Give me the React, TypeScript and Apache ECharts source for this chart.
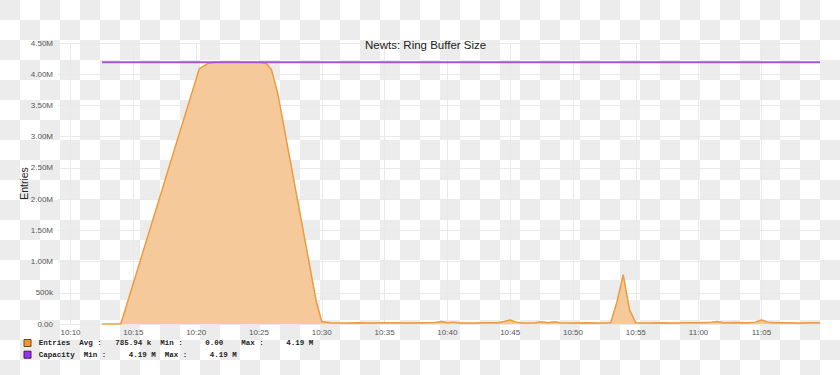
import React, { useEffect, useRef } from "react";
import * as echarts from "echarts";

// ---- data (values in millions of entries) ----
const entryTimes = [
  "10:12:30", "10:14:00", "10:20:15", "10:20:55", "10:21:30", "10:25:00", "10:25:35", "10:26:00",
  "10:26:30", "10:29:35", "10:30:00", "10:30:40", "10:32:00", "10:33:00", "10:34:00", "10:35:00",
  "10:36:00", "10:37:00", "10:38:00", "10:39:00", "10:39:30", "10:40:00", "10:40:30", "10:41:00",
  "10:42:00", "10:43:00", "10:44:00", "10:44:30", "10:45:00", "10:45:30", "10:46:00", "10:47:00",
  "10:47:30", "10:48:00", "10:48:30", "10:49:00", "10:50:00", "10:51:00", "10:52:00", "10:53:00",
  "10:53:30", "10:54:00", "10:54:30", "10:55:00", "10:56:00", "10:57:00", "10:58:00", "10:59:00",
  "11:00:00", "11:01:00", "11:01:30", "11:02:00", "11:03:00", "11:04:00", "11:04:30", "11:05:00",
  "11:05:30", "11:06:00", "11:07:00", "11:08:00", "11:09:00", "11:09:40",
];
const entryValues = [
  0, 0, 4.09, 4.17, 4.19, 4.19, 4.17, 4.07,
  3.69, 0.34, 0.04, 0.02, 0.015, 0.02, 0.015, 0.02,
  0.02, 0.015, 0.02, 0.025, 0.04, 0.02, 0.03, 0.015,
  0.015, 0.02, 0.02, 0.04, 0.065, 0.03, 0.015, 0.02,
  0.035, 0.02, 0.035, 0.02, 0.015, 0.02, 0.015, 0.02,
  0.35, 0.79, 0.23, 0.02, 0.015, 0.02, 0.015, 0.02,
  0.02, 0.03, 0.04, 0.02, 0.025, 0.02, 0.03, 0.065,
  0.03, 0.02, 0.02, 0.015, 0.02, 0.02,
];
const capacityTimes = ["10:12:30", "11:09:40"];
const capacityValues = [4.19, 4.19];

const xTickLabels = [
  "10:10", "10:15", "10:20", "10:25", "10:30", "10:35",
  "10:40", "10:45", "10:50", "10:55", "11:00", "11:05",
];
const axisStart = "10:09:00";
const axisEnd = "11:09:40";

const titleText = "Newts: Ring Buffer Size";
const yAxisName = "Entries";

const legendNames = ["Entries", "Capacity"];
const entriesStatLabels = ["Avg :", "Min :", "Max :"];
const entriesStatValues = ["785.94 k", "0.00", "4.19 M"];
const capacityStatLabels = ["Min :", "Max :"];
const capacityStatValues = ["4.19 M", "4.19 M"];

// minutes since 10:00
const toMin = (s: string) => {
  const [h, m, sec] = s.split(":").map(Number);
  return (h - 10) * 60 + m + (sec || 0) / 60;
};
const pad = (n: number) => (n < 10 ? "0" + n : "" + n);
const fmtMin = (v: number) => {
  const total = Math.round(v);
  return pad(10 + Math.floor(total / 60)) + ":" + pad(total % 60);
};

export default function App() {
  const ref = useRef<HTMLDivElement>(null);

  useEffect(() => {
    if (!ref.current) return;
    const chart = echarts.init(ref.current, undefined, { renderer: "svg" });

    const entriesData = entryTimes.map((t, i) => [toMin(t), entryValues[i]]);
    const capacityData = capacityTimes.map((t, i) => [toMin(t), capacityValues[i]]);
    const tickVals = xTickLabels.map((t) => toMin(t));

    const mono = "'Liberation Mono', 'Courier New', monospace";
    const cw = 4.5;
    const x0 = 38.7;
    const legendText = (str: string, col: number, y: number) => ({
      type: "text",
      x: x0 + col * cw,
      y,
      style: {
        text: str,
        fill: "#222",
        font: `bold 7.5px ${mono}`,
        textVerticalAlign: "middle",
        verticalAlign: "middle",
      },
      silent: true,
    });

    const row1Y = 343.3;
    const row2Y = 355;
    const row1Cols = [9, 17, 27, 37, 45, 55];
    const row2Cols = [10, 20, 28, 38];
    const graphics: any[] = [
      {
        type: "rect",
        shape: { x: 24, y: 339.5, width: 7, height: 7 },
        style: { fill: "#f0962a", stroke: "#6b4a1c", lineWidth: 1 },
      },
      {
        type: "rect",
        shape: { x: 24, y: 351.2, width: 7, height: 7 },
        style: { fill: "#9b30f0", stroke: "#3a2050", lineWidth: 1 },
      },
      legendText(legendNames[0], 0, row1Y),
      legendText(legendNames[1], 0, row2Y),
    ];
    entriesStatLabels.forEach((l, i) => {
      graphics.push(legendText(l, row1Cols[i * 2], row1Y));
      graphics.push(legendText(entriesStatValues[i], row1Cols[i * 2 + 1], row1Y));
    });
    capacityStatLabels.forEach((l, i) => {
      graphics.push(legendText(l, row2Cols[i * 2], row2Y));
      graphics.push(legendText(capacityStatValues[i], row2Cols[i * 2 + 1], row2Y));
    });

    const sans = "'Liberation Sans', Arial, Helvetica, sans-serif";

    chart.setOption({
      animation: false,
      backgroundColor: "transparent",
      title: {
        text: titleText,
        left: 365,
        top: 38.5,
        padding: 0,
        textStyle: { fontSize: 11.5, fontWeight: "normal", color: "#222", fontFamily: sans },
      },
      grid: { left: 58, right: 20, top: 43, bottom: 51, containLabel: false, outerBoundsMode: "none" },
      xAxis: {
        type: "value",
        min: toMin(axisStart),
        max: toMin(axisEnd),
        axisLine: { show: false },
        axisTick: { show: false, customValues: tickVals },
        splitLine: { show: true, lineStyle: { color: "#e9e9e9", width: 1 } },
        axisLabel: {
          customValues: tickVals,
          margin: 4.5,
          fontSize: 8,
          color: "#555",
          fontFamily: sans,
          formatter: (v: number) => fmtMin(v),
        },
      },
      yAxis: {
        type: "value",
        min: 0,
        max: 4.5,
        interval: 0.5,
        name: yAxisName,
        nameLocation: "middle",
        nameRotate: 90,
        nameGap: 29,
        nameMoveOverlap: false,
        nameTextStyle: { fontSize: 10.5, color: "#222", fontFamily: sans },
        axisLine: { show: false },
        axisTick: { show: false },
        splitLine: { show: true, lineStyle: { color: "#e9e9e9", width: 1 } },
        axisLabel: {
          margin: 5,
          fontSize: 8,
          color: "#555",
          fontFamily: sans,
          formatter: (v: number) => {
            if (v === 0) return "0.00";
            if (v < 1) return Math.round(v * 1000) + "k";
            return v.toFixed(2) + "M";
          },
        },
      },
      series: [
        {
          name: legendNames[0],
          type: "line",
          data: entriesData,
          symbol: "none",
          lineStyle: { color: "#ec9b3e", width: 1.5 },
          itemStyle: { color: "#ec9b3e" },
          areaStyle: { color: "#f5c999", opacity: 1 },
          z: 2,
        },
        {
          name: legendNames[1],
          type: "line",
          data: capacityData,
          symbol: "none",
          lineStyle: { color: "#a256d6", width: 2 },
          itemStyle: { color: "#a256d6" },
          z: 3,
        },
      ],
      graphic: graphics,
    });

    return () => chart.dispose();
  }, []);

  return (
    <div
      style={{
        position: "fixed",
        left: 0,
        top: 0,
        width: 840,
        height: 375,
        backgroundColor: "#ffffff",
        backgroundImage:
          "conic-gradient(#ffffff 0 25%, #ececec 0 50%, #ffffff 0 75%, #ececec 0)",
        backgroundSize: "40px 40px",
        backgroundPosition: "0 0",
      }}
    >
      <div ref={ref} style={{ width: 840, height: 375 }} />
    </div>
  );
}
